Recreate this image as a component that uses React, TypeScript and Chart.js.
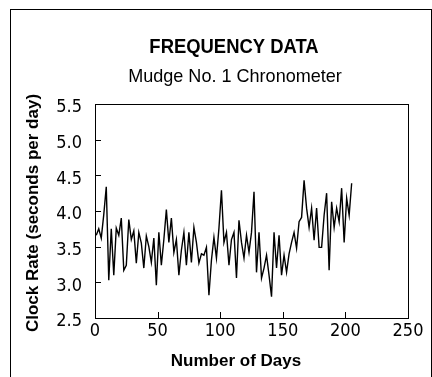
import React, { useEffect, useRef } from "react";
import { Chart, registerables } from "chart.js";

Chart.register(...registerables);

const TITLE = "FREQUENCY DATA";
const SUBTITLE = "Mudge No. 1 Chronometer";
const X_TITLE = "Number of Days";
const Y_TITLE = "Clock Rate (seconds per day)";

const X_MIN = 0;
const X_MAX = 250;
const X_STEP = 50;
const Y_MIN = 2.5;
const Y_MAX = 5.5;
const Y_STEP = 0.5;

const days = [
  1, 3, 5, 7, 9, 11, 13, 15, 17, 19, 21, 23, 25, 27, 29, 31, 33, 35, 37, 39,
  41, 43, 45, 47, 49, 51, 53, 55, 57, 59, 61, 63, 65, 67, 69, 71, 73, 75, 77, 79,
  81, 83, 85, 87, 89, 91, 93, 95, 97, 99, 101, 103, 105, 107, 109, 111, 113, 115, 117, 119,
  121, 123, 125, 127, 129, 131, 133, 135, 137, 139, 141, 143, 145, 147, 149, 151, 153, 155, 157, 159,
  161, 163, 165, 167, 169, 171, 173, 175, 177, 179, 181, 183, 185, 187, 189, 191, 193, 195, 197, 199,
  201, 203, 205,
];

const rates = [
  3.66, 3.75, 3.62, 3.95, 4.34, 3.03, 3.75, 3.1, 3.76, 3.66, 3.9, 3.17, 3.24, 3.88, 3.6, 3.72, 3.27, 3.7, 3.55, 3.2,
  3.65, 3.5, 3.28, 3.62, 2.96, 3.7, 3.24, 3.6, 4.02, 3.56, 3.9, 3.42, 3.6, 3.1, 3.45, 3.7, 3.24, 3.7, 3.28, 3.77,
  3.56, 3.27, 3.4, 3.38, 3.49, 2.82, 3.31, 3.63, 3.34, 3.76, 4.29, 3.56, 3.7, 3.24, 3.6, 3.7, 3.06, 3.87, 3.56, 3.34,
  3.66, 3.42, 3.7, 4.27, 3.14, 3.7, 3.06, 3.2, 3.38, 3.1, 2.8, 3.7, 3.2, 3.66, 3.1, 3.38, 3.14, 3.4, 3.56, 3.7,
  3.48, 3.85, 3.91, 4.43, 4.04, 3.77, 4.04, 3.59, 4.04, 3.49, 3.49, 3.94, 4.25, 3.17, 4.13, 3.77, 4.04, 3.85, 4.32, 3.56,
  4.18, 3.94, 4.39,
];

const TEXT_FONT = "'Liberation Sans', Arial, sans-serif";
const TICK_FONT = "'Liberation Sans Narrow', 'DejaVu Sans Condensed', sans-serif";

function drawScaled(ctx: any, text: string, x: number, y: number, sx: number) {
  ctx.save();
  ctx.translate(x, y);
  ctx.scale(sx, 1);
  ctx.fillText(text, 0, 0);
  ctx.restore();
}

const framePlugin = {
  id: "framePlugin",
  afterDraw(chart: any) {
    const { ctx, chartArea } = chart;
    const xs = chart.scales.x;
    const ys = chart.scales.y;
    ctx.save();
    ctx.strokeStyle = "#000";
    ctx.lineWidth = 1;
    ctx.strokeRect(
      Math.round(chartArea.left) + 0.5,
      Math.round(chartArea.top) + 0.5,
      Math.round(chartArea.right - chartArea.left),
      Math.round(chartArea.bottom - chartArea.top)
    );
    const tl = 6;
    ctx.beginPath();
    xs.ticks.forEach((t: any) => {
      const px = Math.round(xs.getPixelForValue(t.value)) + 0.5;
      ctx.moveTo(px, chartArea.bottom);
      ctx.lineTo(px, chartArea.bottom - tl);
    });
    ys.ticks.forEach((t: any) => {
      const py = Math.round(ys.getPixelForValue(t.value)) + 0.5;
      ctx.moveTo(chartArea.left, py);
      ctx.lineTo(chartArea.left + tl, py);
    });
    ctx.stroke();

    ctx.fillStyle = "#000";
    ctx.textAlign = "center";
    ctx.textBaseline = "alphabetic";
    ctx.font = `bold 19.5px ${TEXT_FONT}`;
    drawScaled(ctx, TITLE, 234, 53, 0.945);
    ctx.font = `19px ${TEXT_FONT}`;
    drawScaled(ctx, SUBTITLE, 235, 82, 0.95);
    ctx.font = `bold 17px ${TEXT_FONT}`;
    ctx.fillText(X_TITLE, 236, 366);
    ctx.save();
    ctx.translate(38, 213);
    ctx.rotate(-Math.PI / 2);
    ctx.fillText(Y_TITLE, 0, 0);
    ctx.restore();
    ctx.restore();
  },
};

export default function App() {
  const ref = useRef<HTMLCanvasElement | null>(null);
  useEffect(() => {
    if (!ref.current) return;
    const chart = new Chart(ref.current, {
      type: "line",
      data: {
        datasets: [
          {
            data: days.map((d, i) => ({ x: d, y: rates[i] })),
            borderColor: "#000",
            borderWidth: 1.4,
            pointRadius: 0,
            tension: 0,
            fill: false,
          },
        ],
      },
      options: {
        animation: false,
        responsive: false,
        maintainAspectRatio: false,
        layout: { padding: { left: 0, right: 24, top: 104, bottom: 0 } },
        plugins: { legend: { display: false }, tooltip: { enabled: false }, title: { display: false } },
        scales: {
          x: {
            type: "linear",
            min: X_MIN,
            max: X_MAX,
            grid: { display: false, drawTicks: false },
            border: { display: false },
            afterFit: (s: any) => {
              s.height = 59;
            },
            ticks: {
              stepSize: X_STEP,
              padding: 3,
              color: "#000",
              maxRotation: 0,
              font: { family: TICK_FONT, size: 18 },
            },
          },
          y: {
            min: Y_MIN,
            max: Y_MAX,
            grid: { display: false, drawTicks: false },
            border: { display: false },
            afterFit: (s: any) => {
              s.width = 95;
            },
            ticks: {
              stepSize: Y_STEP,
              padding: 13,
              labelOffset: 3.5,
              color: "#000",
              font: { family: TICK_FONT, size: 18 },
              callback: (v: any) => Number(v).toFixed(1),
            },
          },
        },
      },
      plugins: [framePlugin],
    });
    return () => chart.destroy();
  }, []);
  return (
    <div
      style={{
        position: "fixed",
        left: 0,
        top: 0,
        width: 432,
        height: 377,
        background: "#fff",
        overflow: "hidden",
      }}
    >
      <canvas ref={ref} width={432} height={377} style={{ display: "block" }} />
      <div
        style={{
          position: "absolute",
          left: 10,
          top: 9,
          width: 422,
          height: 420,
          boxSizing: "border-box",
          border: "1px solid #000",
          pointerEvents: "none",
        }}
      />
    </div>
  );
}
